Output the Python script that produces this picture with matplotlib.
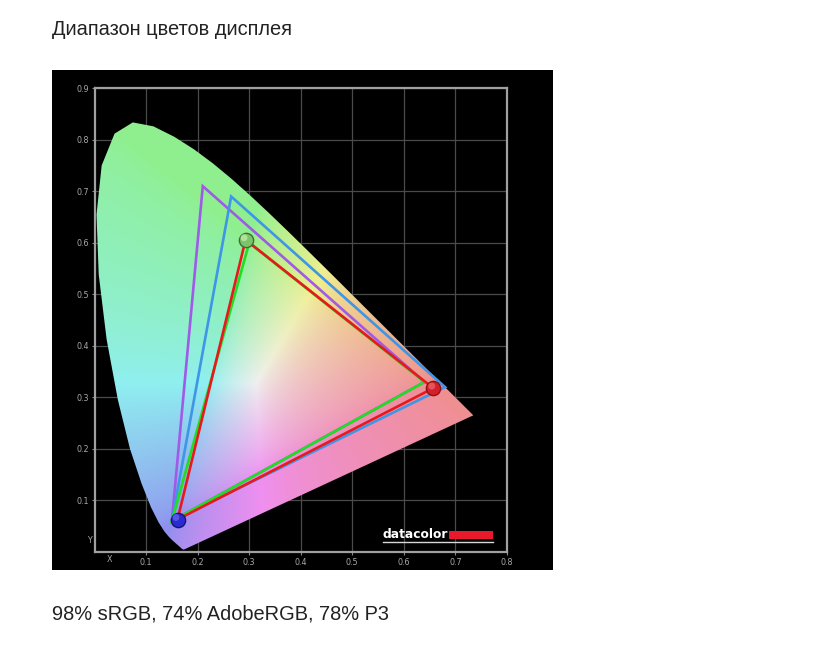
import numpy as np
import matplotlib.pyplot as plt
from matplotlib.patches import Polygon, Rectangle
from matplotlib.lines import Line2D

# CIE 1931 spectral locus (380-700 nm)
locus_x = [0.1741, 0.1740, 0.1738, 0.1736, 0.1733, 0.1730, 0.1726, 0.1721, 0.1714, 0.1703,
           0.1689, 0.1669, 0.1644, 0.1611, 0.1566, 0.1510, 0.1440, 0.1355, 0.1241, 0.1096,
           0.0913, 0.0687, 0.0454, 0.0235, 0.0082, 0.0039, 0.0139, 0.0389, 0.0743, 0.1142,
           0.1547, 0.1929, 0.2296, 0.2658, 0.3016, 0.3373, 0.3731, 0.4087, 0.4441, 0.4788,
           0.5125, 0.5448, 0.5752, 0.6029, 0.6270, 0.6482, 0.6658, 0.6801, 0.6915, 0.7006,
           0.7079, 0.7140, 0.7190, 0.7260, 0.7300, 0.7334, 0.7347]
locus_y = [0.0050, 0.0050, 0.0049, 0.0049, 0.0048, 0.0048, 0.0048, 0.0048, 0.0051, 0.0058,
           0.0069, 0.0086, 0.0109, 0.0138, 0.0177, 0.0227, 0.0297, 0.0399, 0.0578, 0.0868,
           0.1327, 0.2007, 0.2950, 0.4127, 0.5384, 0.6548, 0.7502, 0.8120, 0.8338, 0.8262,
           0.8059, 0.7816, 0.7543, 0.7243, 0.6923, 0.6589, 0.6245, 0.5896, 0.5547, 0.5202,
           0.4866, 0.4544, 0.4242, 0.3965, 0.3725, 0.3514, 0.3340, 0.3197, 0.3083, 0.2993,
           0.2920, 0.2859, 0.2809, 0.2740, 0.2700, 0.2666, 0.2653]

# gamut triangles: red, green, blue primaries
adobe_x = [0.64, 0.21, 0.15]
adobe_y = [0.33, 0.71, 0.06]
p3_x = [0.68, 0.265, 0.15]
p3_y = [0.32, 0.69, 0.06]
srgb_x = [0.64, 0.30, 0.15]
srgb_y = [0.33, 0.60, 0.06]
meas_x = [0.657, 0.293, 0.161]
meas_y = [0.318, 0.606, 0.063]

xticks = [0.1, 0.2, 0.3, 0.4, 0.5, 0.6, 0.7, 0.8]
yticks = [0.1, 0.2, 0.3, 0.4, 0.5, 0.6, 0.7, 0.8, 0.9]

title = "Диапазон цветов дисплея"
caption = "98% sRGB, 74% AdobeRGB, 78% P3"

W, H = 815, 655
fig = plt.figure(figsize=(W / 100, H / 100), dpi=100)
fig.patch.set_facecolor("white")

# black panel behind the chart
fig.patches.append(Rectangle((52 / W, 1 - 570 / H), 501 / W, 500 / H,
                             transform=fig.transFigure, facecolor="black",
                             edgecolor="none", zorder=-5))

ax = fig.add_axes([94.5 / W, 1 - 552 / H, 412.5 / W, 463.7 / H])
ax.set_zorder(2)
ax.set_facecolor("black")
ax.set_xlim(0, 0.8)
ax.set_ylim(0, 0.9)

# chromaticity fill (pastel rendering)
gx = np.linspace(0, 0.8, 700)
gy = np.linspace(0.002, 0.9, 780)
xx, yy = np.meshgrid(gx, gy)
X = xx / yy
Y = np.ones_like(xx)
Z = (1 - xx - yy) / yy
M = np.array([[3.2406, -1.5372, -0.4986],
              [-0.9689, 1.8758, 0.0415],
              [0.0557, -0.2040, 1.0570]])
rgb = np.einsum("ij,jkl->kli", M, np.stack([X, Y, Z]))
rgb = np.clip(rgb, 0, None)
rgb = rgb / rgb.max(axis=2, keepdims=True)
rgb = rgb ** (1 / 1.6)
rgb = 0.94 * (0.6 + 0.4 * rgb)
rgb = np.clip(rgb, 0, 1)
im = ax.imshow(rgb, extent=(0, 0.8, 0.002, 0.9), origin="lower",
               aspect="auto", interpolation="bilinear", zorder=1)
locus = Polygon(np.column_stack([locus_x, locus_y]), closed=True,
                transform=ax.transData, facecolor="none", edgecolor="none")
ax.add_patch(locus)
im.set_clip_path(locus)

# grid + frame
ax.set_xticks(xticks)
ax.set_yticks(yticks)
ax.set_xticklabels([f"{v:.1f}" for v in xticks])
ax.set_yticklabels([f"{v:.1f}" for v in yticks])
ax.set_xticks([0.03], minor=True)
ax.set_xticklabels(["X"], minor=True)
ax.set_yticks([0.025], minor=True)
ax.set_yticklabels(["Y"], minor=True)
ax.grid(True, which="major", color="#4a4a4a", lw=0.9, zorder=0.5)
ax.set_axisbelow(True)
ax.tick_params(which="both", length=2, width=0.8, color="#888888",
               labelcolor="#a8a8a8", labelsize=5.8, pad=2)
ax.tick_params(which="minor", length=0)
for s in ax.spines.values():
    s.set_color("#a0a0a0")
    s.set_linewidth(1.6)

# gamut triangles
for tx, ty, col in [(adobe_x, adobe_y, "#a05ae8"),
                    (p3_x, p3_y, "#3f95e6"),
                    (srgb_x, srgb_y, "#22dd22"),
                    (meas_x, meas_y, "#e8191e")]:
    ax.add_patch(Polygon(np.column_stack([tx, ty]), closed=True, fill=False,
                         edgecolor=col, lw=1.9, joinstyle="miter", zorder=3))

# glossy primaries
for px, py, face, edge, hi in [(meas_x[0], meas_y[0], "#d4202a", "#901015", "#f06a6a"),
                               (meas_x[1], meas_y[1], "#7bc46a", "#3d6e33", "#c8f0b0"),
                               (meas_x[2], meas_y[2], "#2a2ad0", "#15157a", "#6a6af0")]:
    ax.scatter([px], [py], s=105, c=face, edgecolors=edge, linewidths=1.0, zorder=5)
    ax.scatter([px - 0.003], [py + 0.004], s=25, c=hi, edgecolors="none",
               alpha=0.7, zorder=6)

# datacolor logo
ax.text(0.699, 0.031, "datacolor", transform=ax.transAxes, color="white",
        fontsize=8.8, fontweight="bold", ha="left", va="baseline", zorder=7)
ax.add_patch(Rectangle((0.859, 0.028), 0.107, 0.018, transform=ax.transAxes,
                       facecolor="#e8192a", edgecolor="none", zorder=7))
ax.add_line(Line2D([0.699, 0.966], [0.022, 0.022], transform=ax.transAxes,
                   color="#d8d8d8", lw=1.0, zorder=7))

fig.text(52 / W, 1 - 35 / H, title, fontsize=14.4, family="Liberation Sans",
         color="#222222", ha="left", va="baseline")
fig.text(52 / W, 1 - 620 / H, caption, fontsize=14.4, family="Liberation Sans",
         color="#222222", ha="left", va="baseline")

fig.savefig("out.png", dpi=100, facecolor="white")
